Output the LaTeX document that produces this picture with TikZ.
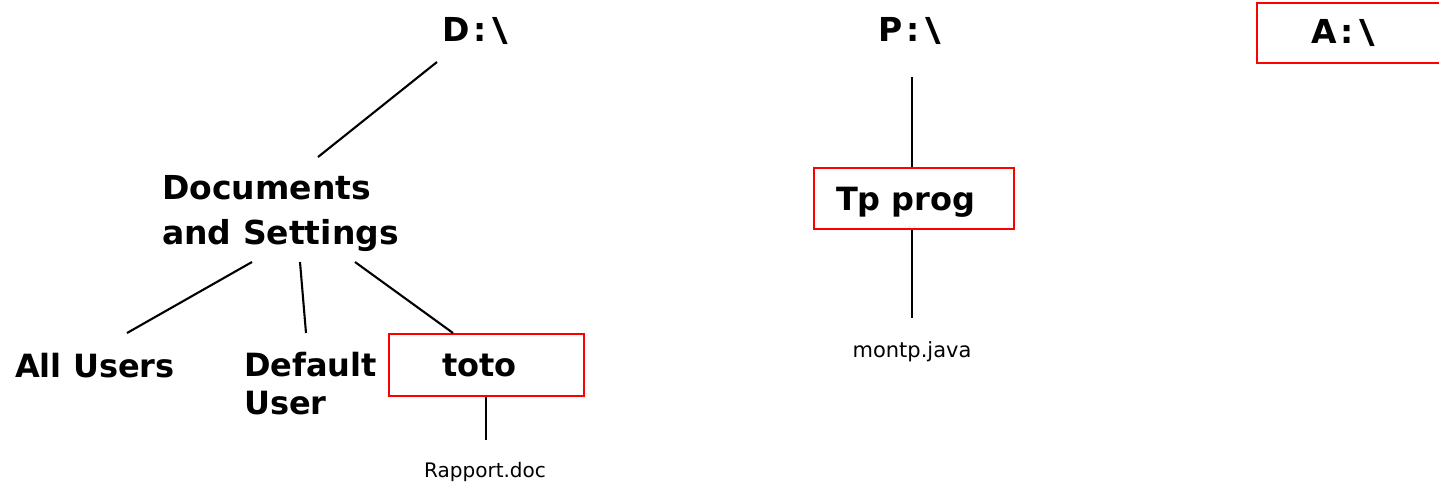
\documentclass[tikz,border=0pt]{standalone}
\usepackage{fontspec}
\setmainfont{DejaVu Sans}
\usetikzlibrary{calc}
\newcommand{\drivebs}{\kern4pt:\kern6pt\scalebox{1.3}[1]{\textbackslash}}
\begin{document}
\begin{tikzpicture}[x=1pt,y=-1pt,
  big/.style={font=\fontsize{33}{45}\selectfont\bfseries, inner sep=0pt},
  small/.style={font=\fontsize{20}{24}\selectfont, inner sep=0pt},
  redbox/.style={draw=red, line width=2pt, rectangle, align=left, inner ysep=0pt},
  link/.style={line width=2.1pt}]
\useasboundingbox (0,0) rectangle (1439,483);
\clip (0,0) rectangle (1439,483);
% D drive tree
\node[big, anchor=base west] (D) at (442,41) {D\drivebs};
\node[big, anchor=north west, align=left] (docs) at (162,175) {Documents\\and Settings};
\node[big, anchor=base west, font=\fontsize{32}{38}\selectfont\bfseries] (all) at (15,377) {All Users};
\node[big, anchor=north west, align=left, font=\fontsize{32}{38}\selectfont\bfseries] (def) at (244,352) {Default\\User};
\node[big, redbox, anchor=north west, inner xsep=53pt, text width=89pt, minimum height=62pt, font=\fontsize{32}{38}\selectfont\bfseries] (toto) at (388,333) {toto};
\node[small, anchor=base] (rap) at (485,477) {Rapport.doc};
\coordinate (d1) at (437,62);
\coordinate (d2) at (318,157);
\coordinate (s1) at (252,262);
\coordinate (s2) at (300,262);
\coordinate (s3) at (355,262);
\coordinate (a1) at (127,333);
\coordinate (u1) at (306,333);
\coordinate (r1) at (486,440);
\draw[link] (d1) -- (d2);
\draw[link] (s1) -- (a1);
\draw[link] (s2) -- (u1);
\draw[link] (s3) -- ($(toto.north west)+(65,0)$);
\draw[link] ($(toto.south west)+(98,0)$) -- (r1);
% P drive tree
\node[big, anchor=base west] (P) at (878,41) {P\drivebs};
\node[big, redbox, anchor=north west, inner xsep=22pt, text width=156pt, minimum height=61pt, text depth=0pt, font=\fontsize{32}{38}\selectfont\bfseries] (tp) at (813,167) {Tp prog};
\node[small, anchor=base, font=\fontsize{21}{24}\selectfont] (mon) at (912,357) {montp.java};
\coordinate (p1) at (912,77);
\coordinate (m1) at (912,318);
\draw[link] (p1) -- (tp.north -| p1);
\draw[link] (tp.south -| m1) -- (m1);
% A drive
\node[big, redbox, anchor=north west, inner xsep=54pt, text width=81pt, minimum height=60pt] (A) at (1256,2) {A\drivebs};
\end{tikzpicture}
\end{document}
